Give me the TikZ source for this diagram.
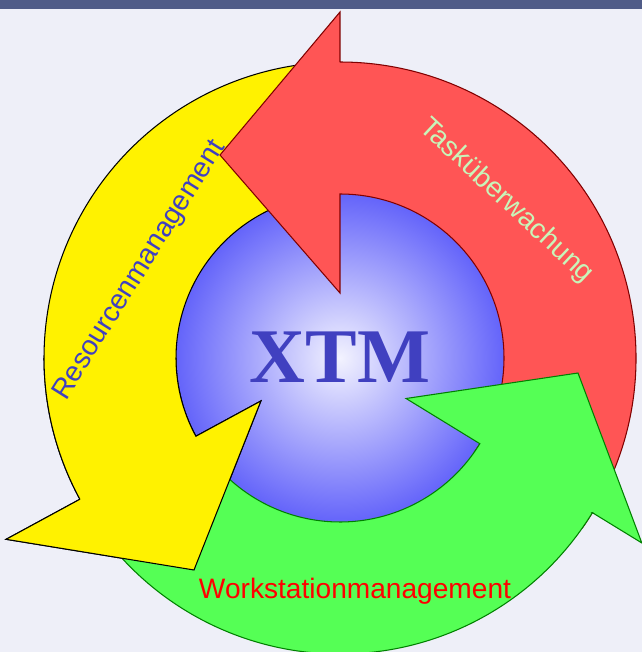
\documentclass[tikz,border=0pt]{standalone}
\usepackage{fontspec}
\setmainfont{Liberation Serif}
\newfontfamily\labelfont{Liberation Sans}

\definecolor{barblue}{RGB}{80,92,136}
\definecolor{pagebg}{RGB}{238,239,248}
\definecolor{taskred}{RGB}{255,85,85}
\definecolor{taskredline}{RGB}{128,0,0}
\definecolor{workgreen}{RGB}{85,255,85}
\definecolor{workgreenline}{RGB}{0,128,0}
\definecolor{xtmblue}{RGB}{64,64,192}
\definecolor{hubblue}{RGB}{100,100,250}
\definecolor{mint}{RGB}{200,245,185}

\tikzset{
  ringlabel/.style={font=\labelfont\fontsize{16}{19}\selectfont, inner sep=0pt},
  resarrowstyle/.style={fill=yellow, draw=black, line width=.6pt},
}
% yellow arrow, used twice (it lies over the green one at its head)
\newcommand{\resarrow}{(208.5:5.92) -- (208.5:7.6) -- (-2.92,-4.24) -- (208.5:1.8) -- (208.5:3.28)
  arc[start angle=208.5, end angle=95, radius=3.28] -- (95:5.92)
  arc[start angle=95, end angle=208.5, radius=5.92] -- cycle}

\begin{document}
\begin{tikzpicture}
\useasboundingbox (-6.8,-5.88) rectangle (6.04,7.16);
\fill[pagebg] (-6.8,-5.88) rectangle (6.04,7.16);
\fill[barblue] (-6.8,6.98) rectangle (6.04,7.16);

\shade[inner color=white!92!hubblue, outer color=hubblue] (0,0) circle (3.28);

\draw[resarrowstyle] \resarrow;

\draw[fill=taskred, draw=taskredline, line width=.6pt] (90:5.92) -- (90:6.92) -- (-2.4,4.06) -- (90:1.3) -- (90:3.28)
  arc[start angle=90, end angle=-35, radius=3.28] -- (-35:5.92)
  arc[start angle=-35, end angle=90, radius=5.92] -- cycle;

\draw[fill=workgreen, draw=workgreenline, line width=.6pt] (-31.5:5.92) -- (-31.5:7.08) -- (4.76,-0.3) -- (-31.5:1.55) -- (-31.5:3.28)
  arc[start angle=-31.5, end angle=-145, radius=3.28] -- (-145:5.92)
  arc[start angle=-145, end angle=-31.5, radius=5.92] -- cycle;

\begin{scope} % yellow head over the green tail
\clip (-6.8,0) rectangle (0,-5.88);
\draw[resarrowstyle] \resarrow;
\end{scope}

\node[ringlabel, text=mint, rotate=-43] (task) at (3.32,3.14) {Tasküberwachung};
\node[ringlabel, text=xtmblue, rotate=58] (res) at (-4.0,1.75) {Resourcenmanagement};
\node[ringlabel, text=red, anchor=base] (work) at (0.3,-4.8) {Workstationmanagement};
\node[text=xtmblue, font=\bfseries\fontsize{44}{50}\selectfont, anchor=base, inner sep=0pt] (xtm) at (0,-0.48) {XTM};
\end{tikzpicture}
\end{document}
